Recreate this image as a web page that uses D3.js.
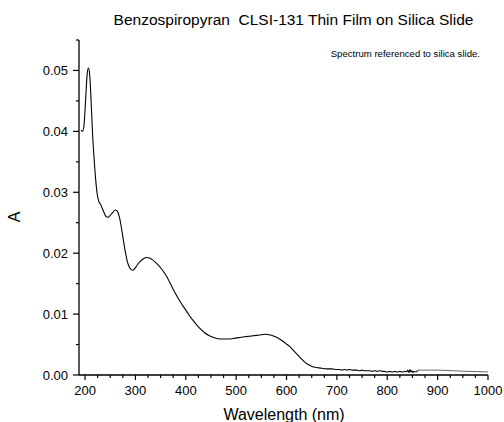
<!DOCTYPE html>
<html>
<head>
<meta charset="utf-8">
<script src="https://cdn.jsdelivr.net/npm/d3@7"></script>
<style>
  body { margin: 0; background: #fff; }
  svg { display: block; font-family: "Liberation Sans", Arial, sans-serif; }
</style>
</head>
<body>
<svg id="chart" width="504" height="422"></svg>
<script>
// ---- data ----
const wavelength = [
  192,195,198,201,204,206.5,209,212,215,218,221,224,227,231,236,241,245,250,255,260,
  264,268,272,276,280,284,288,292,295,299,304,310,316,322,328,334,340,346,352,358,
  364,370,376,382,390,398,406,414,422,430,438,446,454,462,470,478,486,494,502,510,
  520,530,540,550,558,566,574,582,590,598,606,614,622,630,638,646,654,662,670,680,
  690,700,705,710,715,720,725,730,735,740,745,750,755,760,765,770,775,780,785,790,
  795,800,805,810,815,820,825,830,835,838,841,843,845,847,849,851,853,856,859,862,
  880,900,930,960,1000
];
const absorbance = [
  0.0402,0.0400,0.0410,0.0450,0.0492,0.0504,0.0495,0.0450,0.0395,0.0355,0.0322,0.0298,0.0286,0.0280,0.0270,0.0261,0.0259,0.0262,0.0267,0.0271,
  0.0269,0.0260,0.0243,0.0222,0.0202,0.0186,0.0177,0.0173,0.0172,0.0175,0.0181,0.0187,0.0191,0.0193,0.0192,0.0189,0.0185,0.0180,0.0174,0.0167,
  0.0159,0.0149,0.0139,0.0130,0.0119,0.0109,0.0099,0.0090,0.0082,0.0075,0.0069,0.0065,0.0062,0.0060,0.0059,0.0059,0.0059,0.0060,0.0061,0.0062,
  0.0063,0.0064,0.0065,0.0066,0.0067,0.0066,0.0064,0.0061,0.0057,0.0052,0.0047,0.0040,0.0033,0.0026,0.0020,0.0016,0.0013,0.0012,0.0011,0.0010,
  0.0010,0.0009,0.0009,0.0008,0.0009,0.0008,0.0009,0.0008,0.0008,0.0008,0.0007,0.0008,0.0007,0.0007,0.0007,0.0006,0.0007,0.0006,0.0007,0.0006,
  0.0006,0.0005,0.0006,0.0005,0.0006,0.0005,0.0006,0.0005,0.0006,0.0005,0.0008,0.0004,0.0009,0.0005,0.0007,0.0004,0.0006,0.0005,0.0006,0.0008,
  0.0008,0.0008,0.0007,0.0006,0.0005
];
const xTicks = [200,300,400,500,600,700,800,900,1000];
const yTicks = [0.00,0.01,0.02,0.03,0.04,0.05];
const xMinor = d3.range(225, 1000, 25).filter(v => v % 100 !== 0);
const yMinor = [0.005,0.015,0.025,0.035,0.045,0.055];
const title = "Benzospiropyran  CLSI-131 Thin Film on Silica Slide";
const note = "Spectrum referenced to silica slide.";
const xLabel = "Wavelength (nm)";
const yLabel = "A";
const splitAt = 862; // after this the trace is drawn lighter

(function () {
// ---- layout ----
const svg = d3.select("#chart");
const mL = 79, mR = 488, mT = 40, mB = 375;
const x = d3.scaleLinear().domain([188, 1000]).range([mL, mR]);
const y = d3.scaleLinear().domain([0, 0.055]).range([mB, mT]);

// axes
const xAxis = svg.append("g").attr("transform", `translate(0,${mB})`);
xAxis.append("line").attr("x1", mL).attr("x2", mR).attr("stroke", "#000").attr("stroke-width", 1.3);
xAxis.selectAll(".maj").data(xTicks).join("line").attr("class", "maj")
  .attr("x1", d => x(d)).attr("x2", d => x(d)).attr("y1", 0).attr("y2", 5)
  .attr("stroke", "#000").attr("stroke-width", 1.2);
xAxis.selectAll(".min").data(xMinor).join("line").attr("class", "min")
  .attr("x1", d => x(d)).attr("x2", d => x(d)).attr("y1", 0).attr("y2", 3)
  .attr("stroke", "#000").attr("stroke-width", 1.2);
xAxis.selectAll("text").data(xTicks).join("text")
  .attr("x", d => x(d)).attr("y", 20).attr("text-anchor", "middle")
  .attr("font-size", 13).attr("fill", "#000").text(d => d);

const yAxis = svg.append("g").attr("transform", `translate(${mL},0)`);
yAxis.append("line").attr("y1", y(0.055)).attr("y2", mB).attr("stroke", "#000").attr("stroke-width", 1.3);
yAxis.selectAll(".maj").data(yTicks).join("line").attr("class", "maj")
  .attr("y1", d => y(d)).attr("y2", d => y(d)).attr("x1", 0).attr("x2", -6)
  .attr("stroke", "#000").attr("stroke-width", 1.2);
yAxis.selectAll(".min").data(yMinor).join("line").attr("class", "min")
  .attr("y1", d => y(d)).attr("y2", d => y(d)).attr("x1", 0).attr("x2", -3)
  .attr("stroke", "#000").attr("stroke-width", 1.2);
yAxis.selectAll("text").data(yTicks).join("text")
  .attr("x", -11).attr("y", d => y(d)).attr("dy", "0.36em").attr("text-anchor", "end")
  .attr("font-size", 13).attr("fill", "#000").text(d => d3.format(".2f")(d));

// trace
const pts = wavelength.map((w, i) => [w, absorbance[i]]);
const line = d3.line().x(d => x(d[0])).y(d => y(d[1])).curve(d3.curveMonotoneX);
svg.append("path").datum(pts.filter(d => d[0] <= splitAt))
  .attr("d", line).attr("fill", "none").attr("stroke", "#000").attr("stroke-width", 1.1);
svg.append("path").datum(pts.filter(d => d[0] >= splitAt))
  .attr("d", line).attr("fill", "none").attr("stroke", "#666").attr("stroke-width", 1);

// titles
svg.append("text").attr("x", 293.5).attr("y", 25).attr("text-anchor", "middle")
  .style("white-space", "pre").attr("xml:space", "preserve")
  .attr("font-size", 15.5).attr("fill", "#000").text(title);
svg.append("text").attr("x", 480).attr("y", 57).attr("text-anchor", "end")
  .attr("font-size", 9.6).attr("fill", "#000").text(note);
svg.append("text").attr("x", 284).attr("y", 420).attr("text-anchor", "middle")
  .attr("font-size", 16).attr("fill", "#000").text(xLabel);
svg.append("text").attr("transform", "translate(20,217) rotate(-90)").attr("text-anchor", "middle")
  .attr("font-size", 16).attr("fill", "#000").text(yLabel);
})();
</script>
</body>
</html>
